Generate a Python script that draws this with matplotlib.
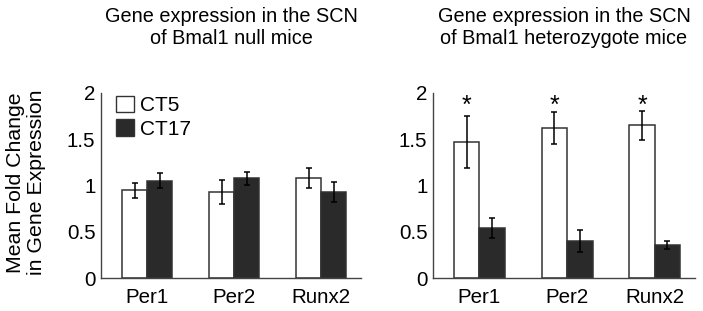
import numpy as np
import matplotlib
matplotlib.use("Agg")
import matplotlib.pyplot as plt
from matplotlib.patches import Patch

plt.rcParams['font.family'] = ['Liberation Sans', 'DejaVu Sans']

genes = ["Per1", "Per2", "Runx2"]
series = ["CT5", "CT17"]

null_ct5 = [0.95, 0.93, 1.08]
null_ct5_err = [0.08, 0.13, 0.11]
null_ct17 = [1.05, 1.08, 0.93]
null_ct17_err = [0.08, 0.07, 0.11]

het_ct5 = [1.47, 1.62, 1.65]
het_ct5_err = [0.28, 0.17, 0.16]
het_ct17 = [0.54, 0.40, 0.36]
het_ct17_err = [0.11, 0.12, 0.045]
het_star = [True, True, True]

titles = ["Gene expression in the SCN\nof Bmal1 null mice",
          "Gene expression in the SCN\nof Bmal1 heterozygote mice"]
yticks = [0, 0.5, 1, 1.5, 2]
ytick_labels = ["0", "0.5", "1", "1.5", "2"]

fig = plt.figure(figsize=(7.03, 3.11), dpi=100)
ax1 = fig.add_axes([0.1437, 0.106, 0.370, 0.595])
ax2 = fig.add_axes([0.616, 0.106, 0.3727, 0.595])

x = np.arange(len(genes))
w = 0.29
edge = "#333333"
dark = "#2a2a2a"

def draw(ax, v1, e1, v2, e2, title, stars=None):
    ax.bar(x - w / 2, v1, w, color="white", edgecolor=edge, linewidth=1.1)
    ax.bar(x + w / 2, v2, w, color=dark, edgecolor=edge, linewidth=1.1)
    ax.errorbar(x - w / 2, v1, yerr=e1, fmt="none", ecolor="black",
                elinewidth=1.1, capsize=2, capthick=1.1)
    ax.errorbar(x + w / 2, v2, yerr=e2, fmt="none", ecolor="black",
                elinewidth=1.1, capsize=2, capthick=1.1)
    if stars:
        for i, s in enumerate(stars):
            if s:
                ax.text(x[i] - w / 2, 1.86, "*", ha="center", va="center",
                        fontsize=18)
    ax.set_xlim(-0.53, 2.46)
    ax.set_ylim(0, 2)
    ax.set_yticks(yticks)
    ax.set_yticklabels(ytick_labels)
    ax.set_xticks(x)
    ax.set_xticklabels(genes)
    ax.tick_params(axis="both", length=0, labelsize=14.8)
    ax.tick_params(axis="y", pad=4)
    ax.tick_params(axis="x", pad=7)
    for sp in ["top", "right"]:
        ax.spines[sp].set_visible(False)
    for sp in ["left", "bottom"]:
        ax.spines[sp].set_color("#444444")
        ax.spines[sp].set_linewidth(1.0)
    pos = ax.get_position()
    fig.text(pos.x0 + pos.width / 2, 0.912, title, ha="center", va="center",
             fontsize=14.3, linespacing=1.2)

draw(ax1, null_ct5, null_ct5_err, null_ct17, null_ct17_err, titles[0])
draw(ax2, het_ct5, het_ct5_err, het_ct17, het_ct17_err, titles[1], het_star)

handles = [Patch(facecolor="white", edgecolor=edge, label=series[0]),
           Patch(facecolor=dark, edgecolor=edge, label=series[1])]
ax1.legend(handles=handles, loc="upper left", bbox_to_anchor=(0.025, 1.03),
           frameon=False, fontsize=15, handlelength=0.85, handleheight=0.85,
           handletextpad=0.3, labelspacing=0.2, borderaxespad=0)

fig.text(0.037, 0.413, "Mean Fold Change\nin Gene Expression", rotation=90,
         ha="center", va="center", fontsize=15.3, linespacing=1.1)

fig.savefig("out.png", dpi=100)
